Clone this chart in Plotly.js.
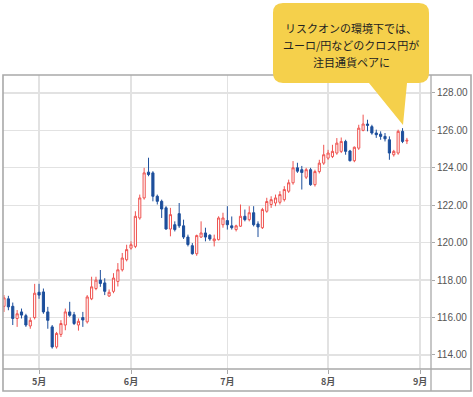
<!DOCTYPE html>
<html>
<head>
<meta charset="utf-8">
<script src="https://cdn.plot.ly/plotly-3.0.1.min.js"></script>
<style>html,body{margin:0;padding:0;background:#fff;}#chart{width:473px;height:397px;}</style>
</head>
<body>
<div id="chart"></div>
<script>
// Trading days (EUR/JPY daily candles)
const dates = [
'2020-04-21','2020-04-22','2020-04-23','2020-04-24','2020-04-27','2020-04-28','2020-04-29','2020-04-30','2020-05-01',
'2020-05-04','2020-05-05','2020-05-06','2020-05-07','2020-05-08',
'2020-05-11','2020-05-12','2020-05-13','2020-05-14','2020-05-15',
'2020-05-18','2020-05-19','2020-05-20','2020-05-21','2020-05-22',
'2020-05-25','2020-05-26','2020-05-27','2020-05-28','2020-05-29',
'2020-06-01','2020-06-02','2020-06-03','2020-06-04','2020-06-05',
'2020-06-08','2020-06-09','2020-06-10','2020-06-11','2020-06-12',
'2020-06-15','2020-06-16','2020-06-17','2020-06-18','2020-06-19',
'2020-06-22','2020-06-23','2020-06-24','2020-06-25','2020-06-26',
'2020-06-29','2020-06-30','2020-07-01','2020-07-02','2020-07-03',
'2020-07-06','2020-07-07','2020-07-08','2020-07-09','2020-07-10',
'2020-07-13','2020-07-14','2020-07-15','2020-07-16','2020-07-17',
'2020-07-20','2020-07-21','2020-07-22','2020-07-23','2020-07-24',
'2020-07-27','2020-07-28','2020-07-29','2020-07-30','2020-07-31',
'2020-08-03','2020-08-04','2020-08-05','2020-08-06','2020-08-07',
'2020-08-10','2020-08-11','2020-08-12','2020-08-13','2020-08-14',
'2020-08-17','2020-08-18','2020-08-19','2020-08-20','2020-08-21',
'2020-08-24','2020-08-25','2020-08-26','2020-08-27'
];
const openP = [
116.6,117.0,116.6,115.95,116.3,116.1,115.55,116.0,117.35,
117.37,116.3,115.5,114.43,115.1,
115.6,116.3,116.15,115.6,116.0,
115.77,117.0,117.55,118.0,117.85,
117.15,117.4,117.93,118.55,119.09,
119.71,119.8,121.32,122.39,123.77,
123.73,122.48,122.21,121.86,120.73,
120.96,121.55,120.9,120.3,119.84,
119.41,120.3,120.52,120.4,120.1,
120.16,120.96,121.18,120.9,120.7,
120.88,121.41,121.23,121.6,121.0,
120.8,121.68,122.04,122.12,122.16,
122.3,122.75,123.2,124.0,123.9,
123.5,123.9,123.1,123.8,124.25,
124.52,124.6,124.79,124.88,125.41,
124.9,124.38,125.05,126.0,126.34,
126.2,125.86,125.8,125.68,125.5,
124.7,124.79,125.95,125.43
];
const highP = [
117.2,117.16,116.8,116.4,116.48,116.2,116.0,117.8,117.8,
117.55,116.57,115.6,115.23,115.86,
116.48,116.84,116.3,115.95,116.3,
117.2,118.18,118.18,118.54,118.1,
117.5,118.37,118.91,119.45,119.89,
120.07,121.68,122.57,124.0,124.54,
123.82,122.57,122.3,121.95,121.86,
121.14,122.12,121.23,120.43,119.98,
120.43,121.14,120.8,120.45,120.43,
121.41,121.6,121.95,121.4,120.96,
122.04,121.77,121.95,121.95,121.14,
121.86,122.4,122.48,122.57,122.75,
123.02,123.37,124.36,124.27,124.1,
124.0,124.0,123.9,124.43,125.23,
124.96,125.23,125.59,125.62,125.5,
124.96,125.14,126.3,126.84,126.57,
126.3,126.04,125.95,125.86,125.68,
124.96,126.04,126.12,125.6
];
const lowP = [
116.3,116.39,115.6,115.5,115.95,115.5,115.4,115.9,117.0,
116.2,115.4,114.34,114.34,114.96,
115.32,116.04,115.6,115.3,115.5,
115.68,116.93,117.46,117.64,117.2,
117.1,117.3,117.66,118.46,119.0,
119.63,119.71,121.23,122.3,123.55,
122.21,122.04,121.32,120.7,120.34,
120.6,120.79,120.2,119.8,119.36,
119.3,120.25,120.07,120.1,119.8,
120.12,120.8,120.7,120.7,120.6,
120.84,121.14,121.14,120.87,120.3,
120.73,121.6,121.86,121.95,122.04,
122.2,122.66,123.1,123.73,122.84,
123.4,123.04,123.0,123.7,124.16,
124.43,124.52,124.7,124.79,124.7,
124.34,124.3,124.96,125.95,125.95,
125.77,125.6,125.5,125.41,124.43,
124.6,124.7,125.32,125.27
];
const closeP = [
117.05,116.57,115.95,116.2,116.13,115.6,115.85,117.3,117.2,
116.3,115.85,114.43,115.15,115.68,
116.3,116.12,115.68,115.8,115.87,
117.1,117.64,118.0,117.82,117.4,
117.35,118.11,118.55,119.18,119.63,
119.89,121.41,122.39,123.73,123.64,
122.48,122.21,121.8,120.73,121.5,
120.7,120.9,120.3,119.9,119.41,
120.38,120.52,120.3,120.2,120.2,
121.32,121.32,120.96,120.8,120.9,
121.41,121.23,121.6,120.96,120.84,
121.77,122.2,122.3,122.39,122.57,
122.84,123.2,124.0,123.82,123.75,
123.9,123.1,123.8,124.25,124.7,
124.79,124.88,125.32,125.41,124.88,
124.38,125.1,126.12,126.34,126.27,
125.86,125.77,125.68,125.55,124.79,
124.88,125.95,125.41,125.47
];
const monthTickDates = ['2020-05-01','2020-06-01','2020-07-01','2020-08-03','2020-09-01'];
const monthTickLabels = ['5月','6月','7月','8月','9月'];
const calloutLines = ['リスクオンの環境下では、','ユーロ/円などのクロス円が','注目通貨ペアに'];

// pixel -> paper helpers (plot area: left 3, top 75, 428 x 294)
const PL = 3, PT = 75, PW = 428, PH = 294;
const fx = x => (x - PL) / PW;
const fy = y => (PT + PH - y) / PH;
const P = (x, y) => fx(x).toFixed(5) + ',' + fy(y).toFixed(5);

const frameColor = '#a9a9a9';
const shapes = [
  {type:'rect', xref:'paper', yref:'paper', x0:fx(3), x1:fx(471), y0:fy(75), y1:fy(391), line:{color:frameColor, width:1.6}, layer:'above'},
  {type:'line', xref:'paper', yref:'paper', x0:fx(3), x1:fx(471), y0:fy(369), y1:fy(369), line:{color:frameColor, width:1.3}, layer:'above'},
  {type:'line', xref:'paper', yref:'paper', x0:fx(431), x1:fx(431), y0:fy(75), y1:fy(391), line:{color:frameColor, width:1.3}, layer:'above'}
];
// speech bubble
const bx0 = 273, bx1 = 429, by0 = 3, by1 = 83, r = 10;
const bubble = 'M' + P(bx0 + r, by0) + ' L' + P(bx1 - r, by0) + ' Q' + P(bx1, by0) + ' ' + P(bx1, by0 + r) +
  ' L' + P(bx1, by1 - r) + ' Q' + P(bx1, by1) + ' ' + P(bx1 - r, by1) +
  ' L' + P(407, by1) + ' L' + P(403, 125) + ' L' + P(369, by1) +
  ' L' + P(bx0 + r, by1) + ' Q' + P(bx0, by1) + ' ' + P(bx0, by1 - r) +
  ' L' + P(bx0, by0 + r) + ' Q' + P(bx0, by0) + ' ' + P(bx0 + r, by0) + ' Z';
shapes.push({type:'path', xref:'paper', yref:'paper', path:bubble, fillcolor:'#f5d04b', line:{width:0}, layer:'above'});

const lineY = [28, 45, 62];
const annotations = calloutLines.map((t, i) => ({
  xref:'paper', yref:'paper', x:fx(351), y:fy(lineY[i]), text:t, showarrow:false,
  xanchor:'center', yanchor:'middle',
  font:{family:'Noto Sans CJK JP, Noto Sans', size:11, color:'#222'}
}));

const trace = {
  type:'candlestick', x:dates, open:openP, high:highP, low:lowP, close:closeP,
  increasing:{line:{color:'#ef5350', width:1}, fillcolor:'#ffffff'},
  decreasing:{line:{color:'#1d4f9c', width:1}, fillcolor:'#1d4f9c'},
  whiskerwidth:0, hoverinfo:'skip', showlegend:false
};

const layout = {
  width:473, height:397,
  margin:{l:3, r:42, t:75, b:28, pad:0},
  paper_bgcolor:'#ffffff', plot_bgcolor:'#ffffff',
  showlegend:false,
  xaxis:{
    type:'date', range:['2020-04-20 18:30','2020-09-03 12:00'],
    rangebreaks:[{bounds:['sat','mon']}],
    rangeslider:{visible:false},
    tickmode:'array', tickvals:monthTickDates, ticktext:monthTickLabels,
    ticks:'outside', ticklen:4, tickcolor:'#aaa', tickwidth:1,
    showgrid:true, gridcolor:'#e2e2e2', gridwidth:1.3,
    showline:false, zeroline:false,
    tickfont:{family:'Noto Sans CJK JP, Noto Sans', size:9, color:'#555', weight:'bold'}
  },
  yaxis:{
    side:'right', range:[113.25, 128.96],
    tick0:114, dtick:2, tickformat:'.2f',
    ticks:'outside', ticklen:3, tickcolor:'#aaa', tickwidth:1,
    showgrid:true, gridcolor:'#e2e2e2', gridwidth:1.3,
    showline:false, zeroline:false,
    tickfont:{family:'Liberation Sans Narrow, Liberation Sans, Arial', size:10, color:'#555'}
  },
  shapes:shapes,
  annotations:annotations
};

Plotly.newPlot('chart', [trace], layout, {staticPlot:true, displayModeBar:false});
</script>
</body>
</html>
